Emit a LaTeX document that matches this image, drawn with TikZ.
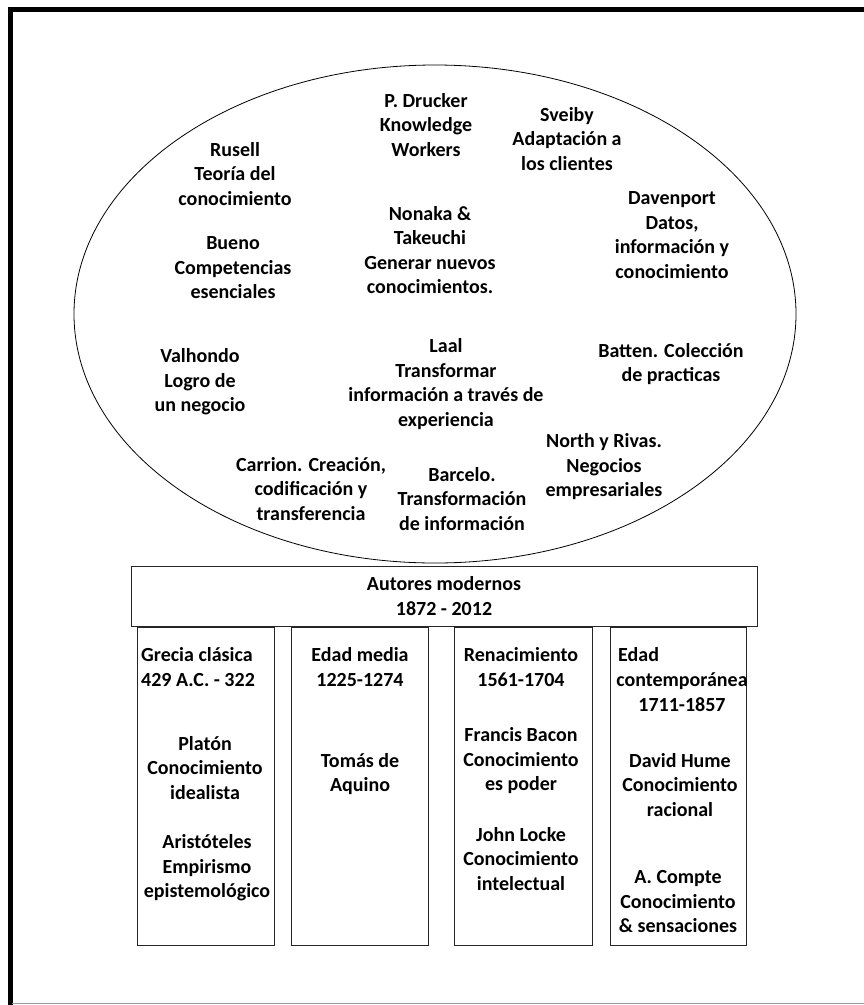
\documentclass[tikz,border=0pt]{standalone}
\usepackage{fontspec}
\setmainfont{Carlito}
\usetikzlibrary{shapes.geometric}
\begin{document}
\begin{tikzpicture}[x=1pt,y=-1pt,
  lbl/.style={font=\fontsize{20}{24.5}\selectfont\bfseries, align=center, inner sep=0pt},
  lbll/.style={lbl, align=left, anchor=west},
  era/.style={draw=black!85, line width=0.9pt, minimum width=#1, anchor=north west, inner sep=0pt},
]
\useasboundingbox (0,0) rectangle (864,1005);
% page frame
\draw[line width=5pt] (10,9) -- (864,9);
\draw[line width=5pt] (10,7) -- (10,1005);
\draw[black!40, line width=1pt] (12,1003.5) -- (864,1003.5);

% the cloud of modern authors
\node[ellipse, draw, line width=0.8pt, minimum width=722pt, minimum height=498pt, inner sep=0pt] (oval) at (435,314) {};
\node[lbl] (drucker) at (426,125) {P. Drucker\\Knowledge\\Workers};
\node[lbl] (sveiby) at (567,139) {Sveiby\\Adaptación a\\los clientes};
\node[lbl] (russell) at (235,174) {Rusell\\Teoría del\\conocimiento};
\node[lbl] (nonaka) at (430,250) {Nonaka \&\\Takeuchi\\Generar nuevos\\conocimientos.};
\node[lbl] (davenport) at (672,235) {Davenport\\Datos,\\información y\\conocimiento};
\node[lbl] (bueno) at (233,268) {Bueno\\Competencias\\esenciales};
\node[lbl] (valhondo) at (200,382) {Valhondo\\Logro de\\un negocio};
\node[lbl] (laal) at (446,384) {Laal\\Transformar\\información a través de\\experiencia};
\node[lbl] (batten) at (671,364) {Batten. Colección\\de practicas};
\node[lbl] (north) at (604,467) {North y Rivas.\\Negocios\\empresariales};
\node[lbl] (carrion) at (311,489) {Carrion. Creación,\\codificación y\\transferencia};
\node[lbl] (barcelo) at (462,499) {Barcelo.\\Transformación\\de información};

% heading bar
\node[era=626pt, minimum height=60pt] (modern) at (131,566) {};
\node[lbl] (moderntxt) at (444,596) {Autores modernos\\1872 - 2012};

% historical periods
\node[era=137pt, minimum height=318pt] (greece) at (137,627) {};
\node[era=137pt, minimum height=318pt] (middle) at (291,627) {};
\node[era=138pt, minimum height=318pt] (renaiss) at (454,627) {};
\node[era=136pt, minimum height=318pt] (contemp) at (610,627) {};

\node[lbll] (greecehd) at (141,667) {Grecia clásica\\429 A.C. - 322};
\node[lbl] (platon) at (205,768) {Platón\\Conocimiento\\idealista};
\node[lbl] (aristo) at (207,868) {Aristóteles\\Empirismo\\epistemológico};

\node[lbl] (middlehd) at (360,667) {Edad media\\1225-1274};
\node[lbl] (aquino) at (360,774) {Tomás de\\Aquino};

\node[lbl] (renhd) at (521,667) {Renacimiento\\1561-1704};
\node[lbl] (bacon) at (521,761) {Francis Bacon\\Conocimiento\\es poder};
\node[lbl] (locke) at (521,859) {John Locke\\Conocimiento\\intelectual};

\node[lbll] (conhd1) at (618,655) {Edad};
\node[lbl] (conhd2) at (682,692) {contemporánea\\1711-1857};
\node[lbl] (hume) at (680,785) {David Hume\\Conocimiento\\racional};
\node[lbl] (compte) at (678,902) {A. Compte\\Conocimiento\\\& sensaciones};
\end{tikzpicture}
\end{document}
